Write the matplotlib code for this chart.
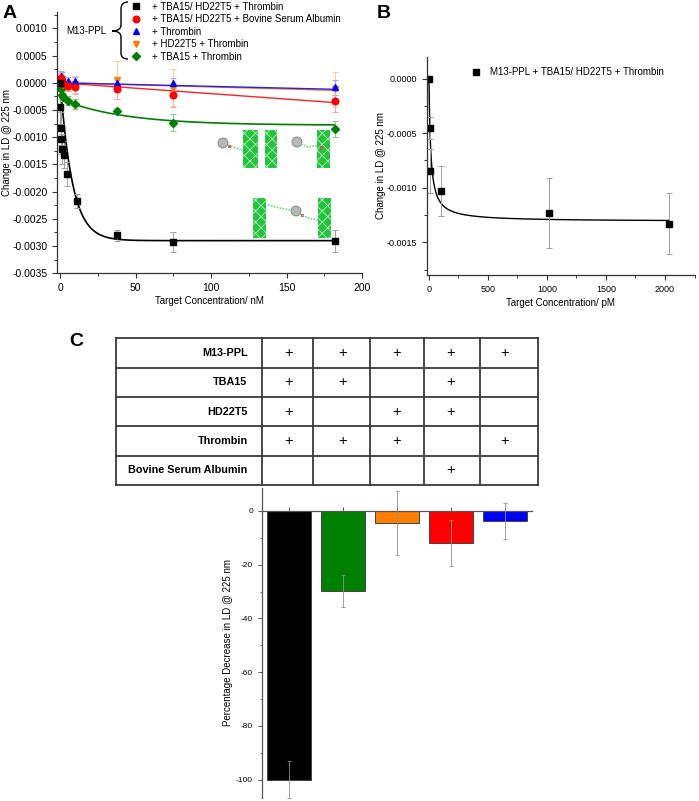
import numpy as np
import matplotlib
matplotlib.use('Agg')
import matplotlib.pyplot as plt
from matplotlib.lines import Line2D
from matplotlib.patches import Rectangle, Circle, PathPatch
from matplotlib.path import Path
from matplotlib.ticker import MultipleLocator, FuncFormatter

plt.rcParams['font.family'] = ['Liberation Sans', 'DejaVu Sans']
plt.rcParams['axes.unicode_minus'] = False
plt.rcParams['hatch.linewidth'] = 0.6

W, H = 699, 801

# ---- Panel A data (change in LD vs target concentration, nM)
xA_black = [0, 0.1, 0.3, 0.6, 1.3, 2.5, 4.6, 10.8, 37.5, 75, 182]
yA_black = [0, -0.00045, -0.00084, -0.00103, -0.00122, -0.00132, -0.00168, -0.00217,
            -0.0028, -0.00293, -0.0029]
eA_black = [0.0001, 0.0003, 0.0003, 0.00028, 0.00028, 0.00025, 0.00022, 0.00013,
            0.0001, 0.00018, 0.0002]

xA = [0, 0.5, 1, 2, 5, 10, 37.5, 75, 182]
yA_red = [0.00005, 0.00008, 0.00002, -0.00003, -0.00006, -0.00008, -0.00012, -0.00023, -0.00033]
eA_red = [0.0001, 0.0001, 0.0001, 0.0001, 0.0001, 0.00012, 0.00017, 0.00021, 0.0002]
yA_blue = [0.0, 0.00012, 0.0001, 0.00005, 0.00003, 0.00004, 0.0, -0.00001, -0.00008]
eA_blue = [0.0001, 0.0001, 0.0001, 0.00008, 0.00008, 0.00006, 0.00008, 0.00009, 0.00014]
yA_orange = [0.0, -0.00002, 0.00003, -0.00004, -0.00004, -0.00003, 0.00005, -0.00009, -0.00012]
eA_orange = [0.0001, 0.0001, 0.00012, 0.00012, 0.0001, 0.00015, 0.00035, 0.00034, 0.00032]
yA_green = [0.0, -0.00012, -0.00022, -0.00026, -0.00033, -0.00039, -0.00052, -0.00073, -0.00085]
eA_green = [0.0001, 0.0001, 0.0001, 0.00008, 0.00008, 0.0001, 0.00006, 0.00016, 0.00015]

# fitted model parameters
black_amp, black_tau = -0.0029, 8.0
green_amp1, green_tau1, green_amp2, green_tau2 = -0.0003, 1.5, -0.00048, 42.0
red_slope, blue_slope, orange_slope = -2.0e-6, -6.6e-7, -7.7e-7

labelsA = ['+ TBA15/ HD22T5 + Thrombin', '+ TBA15/ HD22T5 + Bovine Serum Albumin',
           '+ Thrombin', '+ HD22T5 + Thrombin', '+ TBA15 + Thrombin']

# ---- Panel B data (pM)
xB = [0, 5, 10, 100, 1018, 2035]
yB = [0.0, -0.00045, -0.00085, -0.00103, -0.00123, -0.00133]
eB = [0.0, 0.0001, 0.0002, 0.00023, 0.00032, 0.00028]
B_bmax, B_kd = -0.00131, 15.0

# ---- Panel C data
rows_C = ['M13-PPL', 'TBA15', 'HD22T5', 'Thrombin', 'Bovine Serum Albumin']
presence = [[1, 1, 1, 1, 1],
            [1, 1, 0, 1, 0],
            [1, 0, 1, 1, 0],
            [1, 1, 1, 0, 1],
            [0, 0, 0, 1, 0]]
pct_decrease = [-100, -29.8, -4.5, -12, -3.7]
pct_err = [7, 5.9, 12, 8.5, 6.7]
bar_colors = ['#000000', '#008000', '#ff8000', '#ff0000', '#0000ff']

fig = plt.figure(figsize=(W / 100, H / 100), dpi=100)


def px_axes(x0, y0, x1, y1):
    return fig.add_axes([x0 / W, 1 - y1 / H, (x1 - x0) / W, (y1 - y0) / H])


def style(ax, fs):
    for s in ['top', 'right']:
        ax.spines[s].set_visible(False)
    for s in ['left', 'bottom']:
        ax.spines[s].set_linewidth(0.9)
        ax.spines[s].set_color('#333333')
    ax.tick_params(which='major', direction='out', length=3.5, width=0.8, labelsize=fs,
                   colors='#333333', labelcolor='black')
    ax.tick_params(which='minor', direction='out', length=2, width=0.7, colors='#333333')


fmt4 = FuncFormatter(lambda v, p: '%.4f' % (0 if abs(v) < 1e-9 else v))

# ---------------- Panel A
axA = px_axes(57.3, 12, 362, 273.3)
style(axA, 7.5)
axA.set_xlim(-2, 200)
axA.set_ylim(-0.0035, 0.0013)
axA.xaxis.set_major_locator(MultipleLocator(50))
axA.xaxis.set_minor_locator(MultipleLocator(25))
axA.yaxis.set_major_locator(MultipleLocator(0.0005))
axA.yaxis.set_minor_locator(MultipleLocator(0.00025))
axA.yaxis.set_major_formatter(fmt4)
axA.set_xlabel('Target Concentration/ nM', fontsize=7)
axA.set_ylabel('Change in LD @ 225 nm', fontsize=7)
axA.xaxis.set_label_coords(0.5, -0.087)
axA.yaxis.set_label_coords(-0.149, 0.5)

xf = np.linspace(0, 182, 400)
axA.plot(xf, red_slope * xf, color='#ff2020', lw=1)
axA.plot(xf, orange_slope * xf, color='#ff8000', lw=1)
axA.plot(xf, blue_slope * xf, color='#2020ff', lw=1)
axA.plot(xf, green_amp1 * (1 - np.exp(-xf / green_tau1)) + green_amp2 * (1 - np.exp(-xf / green_tau2)),
         color='#008000', lw=1.2)
axA.plot(xf, black_amp * (1 - np.exp(-xf / black_tau)), color='black', lw=1.2)

seriesA = [
    (xA_black, yA_black, eA_black, 's', 'black', '#a0a0a0'),
    (xA, yA_red, eA_red, 'o', '#ff0000', '#ffa0a0'),
    (xA, yA_blue, eA_blue, '^', '#0000ff', '#a0a0ff'),
    (xA, yA_orange, eA_orange, 'v', '#ff8000', '#ffc890'),
    (xA, yA_green, eA_green, 'D', '#008000', '#80c880'),
]
handles = []
for (x, y, e, m, c, ec) in seriesA[::-1]:
    axA.errorbar(x, y, yerr=e, fmt='none', ecolor=ec, elinewidth=0.7, capsize=2, capthick=0.7)
for (x, y, e, m, c, ec) in seriesA[::-1]:
    ms = 4.2 if m == 'D' else 4.8
    axA.plot(x, y, ls='none', marker=m, color=c, ms=ms, mec=c)
for (x, y, e, m, c, ec) in seriesA:
    ms = 4.2 if m == 'D' else 4.8
    handles.append(Line2D([], [], ls='none', marker=m, color=c, ms=ms))

axA.legend(handles, labelsA, loc='upper left', bbox_to_anchor=(131 / W, 1 - 1.5 / H),
           bbox_transform=fig.transFigure, frameon=False, fontsize=7, handlelength=1,
           handletextpad=1.13, labelspacing=0.26, borderpad=0, borderaxespad=0)

# ---------------- Panel B
axB = px_axes(426.6, 56.7, 694.5, 275)
style(axB, 6.5)
axB.set_xlim(-20, 2250)
axB.set_ylim(-0.0018, 0.0002)
axB.xaxis.set_major_locator(MultipleLocator(500))
axB.xaxis.set_minor_locator(MultipleLocator(250))
axB.yaxis.set_major_locator(MultipleLocator(0.0005))
axB.yaxis.set_minor_locator(MultipleLocator(0.00025))
axB.yaxis.set_major_formatter(fmt4)
axB.set_xlabel('Target Concentration/ pM', fontsize=7)
axB.set_ylabel('Change in LD @ 225 nm', fontsize=7)
axB.xaxis.set_label_coords(0.5, -0.105)
axB.yaxis.set_label_coords(-0.152, 0.5)
xfb = np.linspace(0, 2035, 2000)
axB.plot(xfb, B_bmax * xfb / (B_kd + xfb), color='black', lw=1)
axB.errorbar(xB, yB, yerr=eB, fmt='none', ecolor='#a0a0a0', elinewidth=0.7, capsize=2, capthick=0.7)
axB.plot(xB, yB, ls='none', marker='s', color='black', ms=4.2)
axB.legend([Line2D([], [], ls='none', marker='s', color='black', ms=4.2)],
           ['M13-PPL + TBA15/ HD22T5 + Thrombin'], loc='upper left',
           bbox_to_anchor=(471 / W, 1 - 67.4 / H), bbox_transform=fig.transFigure,
           frameon=False, fontsize=7, handlelength=1, handletextpad=0.95,
           borderpad=0, borderaxespad=0)

# ---------------- Panel C bars
axC = px_axes(262, 488.3, 532, 797.5)
for s in ['top', 'right']:
    axC.spines[s].set_visible(False)
axC.spines['bottom'].set_position(('data', 0))
for s in ['left', 'bottom']:
    axC.spines[s].set_linewidth(0.9)
    axC.spines[s].set_color('#555555')
axC.set_xlim(-0.5, 4.5)
axC.set_ylim(-106.7, 8.45)
pos = np.arange(len(pct_decrease))
axC.bar(pos, pct_decrease, width=0.8, color=bar_colors, edgecolor='#444444', lw=0.7, zorder=2)
axC.errorbar(pos, pct_decrease, yerr=pct_err, fmt='none', ecolor='#909090', elinewidth=0.6,
             capsize=1.5, capthick=0.6, zorder=3)
axC.set_xticks(pos)
axC.tick_params(axis='x', direction='in', length=3, width=0.7, labelbottom=False, colors='#555555')
axC.yaxis.set_major_locator(MultipleLocator(20))
axC.yaxis.set_minor_locator(MultipleLocator(10))
axC.yaxis.set_major_formatter(FuncFormatter(lambda v, p: '%d' % round(v)))
axC.tick_params(axis='y', which='major', direction='out', length=3, width=0.7, labelsize=6,
                colors='#555555', labelcolor='black')
axC.tick_params(axis='y', which='minor', direction='out', length=1.8, width=0.6, colors='#555555')
axC.set_ylabel('Percentage Decrease in LD @ 225 nm', fontsize=7)
axC.yaxis.set_label_coords(-0.107, 0.5)

# ---------------- overlay in pixel coordinates: table, brace, cartoons, panel letters
ov = fig.add_axes([0, 0, 1, 1], zorder=5)
ov.set_xlim(0, W)
ov.set_ylim(H, 0)
ov.axis('off')
ov.patch.set_alpha(0)

col_lines = [115.6, 262.1, 312.7, 370.1, 423.8, 480.3, 537.6]
row_lines = [338.3, 367.7, 397.0, 426.3, 455.7, 485.0]
lc = '#3a3a3a'
for yl in row_lines:
    ov.plot([col_lines[0], col_lines[-1]], [yl, yl], color=lc, lw=1.3)
for xl in col_lines:
    ov.plot([xl, xl], [row_lines[0], row_lines[-1]], color=lc, lw=1.3)
col_x = [axC.transData.transform((i, 0))[0] for i in pos]
for r, name in enumerate(rows_C):
    yc = (row_lines[r] + row_lines[r + 1]) / 2
    ov.text(247.5, yc, name, ha='right', va='center', fontsize=7.8, fontweight='bold')
    for c in range(len(col_x)):
        if presence[r][c]:
            ov.text(col_x[c], yc, '+', ha='center', va='center', fontsize=10.5)

# brace + M13-PPL
verts = [(128, 2), (121, 2), (121, 9), (121, 25), (121, 31), (112, 31),
         (121, 31), (121, 37), (121, 53), (121, 59), (128, 59)]
codes = [Path.MOVETO, Path.CURVE3, Path.CURVE3, Path.LINETO, Path.CURVE3, Path.CURVE3,
         Path.CURVE3, Path.CURVE3, Path.LINETO, Path.CURVE3, Path.CURVE3]
ov.add_patch(PathPatch(Path(verts, codes), fill=False, lw=1, color='black'))
ov.text(86, 31, 'M13-PPL', ha='center', va='center', fontsize=7)


def pillar(x0, y0, x1, y1):
    ov.add_patch(Rectangle((x0, y0), x1 - x0, y1 - y0, facecolor='#22c43c',
                           edgecolor='#b8f2c0', hatch='xxx', lw=0))


def strand(pts, blob, reds):
    xs, ys = zip(*pts)
    ov.plot(xs, ys, color='#7ccf88', lw=1.2, ls=(0, (1, 0.8)))
    ov.add_patch(Circle(blob, 5, facecolor='#b8b8b8', edgecolor='#808080', lw=0.6))
    for rx, ry in reds:
        ov.add_patch(Rectangle((rx - 1.5, ry - 1.5), 3, 3, facecolor='#e05050', lw=0))


for p in [(243, 130, 258, 168), (265, 130, 277, 168), (317, 130, 330, 168),
          (253, 198, 266, 238), (318, 198, 331, 238)]:
    pillar(*p)
strand([(228, 145), (233, 147), (238, 149), (243, 150)], (223, 143), [(229, 146)])
strand([(301, 144), (308, 147), (314, 146), (321, 147)], (297, 142), [(321, 147)])
strand([(268, 205), (276, 207), (284, 209), (292, 210), (300, 214), (308, 218), (318, 220)],
       (296, 211), [(302, 215)])

fig.text(3 / W, 1 - 5 / H, 'A', ha='left', va='top', fontsize=14, fontweight='bold')
fig.text(377 / W, 1 - 5 / H, 'B', ha='left', va='top', fontsize=14, fontweight='bold')
fig.text(69 / W, 1 - 333 / H, 'C', ha='left', va='top', fontsize=14, fontweight='bold')

fig.savefig('out.png', dpi=100)
